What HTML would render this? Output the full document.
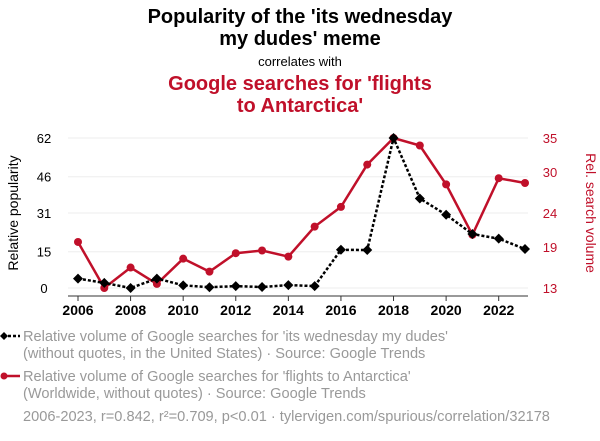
<!DOCTYPE html>
<html><head><meta charset="utf-8"><style>
body{margin:0;background:#fff;width:600px;height:436px;overflow:hidden;font-family:"Liberation Sans",sans-serif}
</style></head><body>
<svg id="c" width="600" height="436" xmlns="http://www.w3.org/2000/svg">
<text x="300" y="23" text-anchor="middle" font-size="20" font-weight="bold" fill="#000">Popularity of the 'its wednesday</text>
<text x="300" y="45" text-anchor="middle" font-size="20" font-weight="bold" fill="#000">my dudes' meme</text>
<text x="300" y="66" text-anchor="middle" font-size="13" fill="#000">correlates with</text>
<text x="300" y="90" text-anchor="middle" font-size="20" font-weight="bold" fill="#c0102a">Google searches for 'flights</text>
<text x="300" y="112" text-anchor="middle" font-size="20" font-weight="bold" fill="#c0102a">to Antarctica'</text>
<text transform="translate(18,213) rotate(-90)" text-anchor="middle" font-size="14" fill="#000">Relative popularity</text>
<text transform="translate(586,213) rotate(90)" text-anchor="middle" font-size="14" fill="#c0102a">Rel. search volume</text>
<g id="grid"></g><g id="axes"></g><g id="marks"></g>
<g font-size="14.6" fill="#999">
<line x1="3" y1="336" x2="20" y2="336" stroke="#000" stroke-width="2.5" stroke-dasharray="3,2"/>
<path d="M4,332 L8,336 L4,340 L0,336Z" fill="#000"/>
<text x="23" y="341">Relative volume of Google searches for 'its wednesday my dudes'</text>
<text x="23" y="358">(without quotes, in the United States) · Source: Google Trends</text>
<line x1="3" y1="376" x2="20" y2="376" stroke="#c0102a" stroke-width="2.5"/>
<circle cx="4" cy="376" r="3.5" fill="#c0102a"/>
<text x="23" y="381">Relative volume of Google searches for 'flights to Antarctica'</text>
<text x="23" y="398">(Worldwide, without quotes) · Source: Google Trends</text>
<text x="23" y="421">2006-2023, r=0.842, r²=0.709, p&lt;0.01 · tylervigen.com/spurious/correlation/32178</text>
</g>
</svg>
<script>
const years=[2006,2007,2008,2009,2010,2011,2012,2013,2014,2015,2016,2017,2018,2019,2020,2021,2022,2023];
const wednesday=[3.9,2.1,0,3.9,1.1,0.3,0.8,0.4,1.2,0.8,15.8,15.7,62,37,30.3,22.3,20.4,16.1];
const antarctica=[19.75,13,16.0,13.6,17.3,15.4,18.1,18.5,17.6,22.0,24.9,31.1,35,33.9,28.2,20.8,29.1,28.4];
const leftTicks=[0,15,31,46,62];
const rightTicks=[13,19,24,30,35];
const xTicks=[2006,2008,2010,2012,2014,2016,2018,2020,2022];
const NS="http://www.w3.org/2000/svg";
const x=v=>78+(v-2006)*(525-78)/17;
const yL=v=>288-v*150/62;
const yR=v=>288-(v-13)*150/22;
function mk(tag,attrs,parent){const e=document.createElementNS(NS,tag);for(const k in attrs)e.setAttribute(k,attrs[k]);document.getElementById(parent).appendChild(e);return e;}
leftTicks.forEach(t=>{
 const g=mk('line',{x1:68,x2:528,y1:yL(t),y2:yL(t),stroke:'#eee','stroke-width':1},'grid');
 
 
 const l=mk('text',{x:44,y:yL(t)+5,'text-anchor':'middle','font-size':13,fill:'#000'},'axes');l.textContent=t;
 
 
});
rightTicks.forEach(t=>{
 const l=mk('text',{x:550,y:yR(t)+5,'text-anchor':'middle','font-size':13,fill:'#c0102a'},'axes');l.textContent=t;
 
 
});
const ax=mk('line',{x1:68,x2:528,y1:296,y2:296,stroke:'#333','stroke-width':1},'axes');


xTicks.forEach(t=>{
 const tk=mk('line',{x1:x(t),x2:x(t),y1:296,y2:301,stroke:'#333'},'axes');
 
 
 const l=mk('text',{x:x(t),y:315,'text-anchor':'middle','font-size':14,'font-weight':'bold',fill:'#000'},'axes');l.textContent=t;
 
 
});
const rp=mk('polyline',{points:years.map((y,i)=>x(y)+','+yR(antarctica[i])).join(' '),fill:'none',stroke:'#c0102a','stroke-width':2.5},'marks');


years.forEach((y,i)=>{
 const c=mk('circle',{cx:x(y),cy:yR(antarctica[i]),r:4,fill:'#c0102a'},'marks');
 
 
});
const bp=mk('polyline',{points:years.map((y,i)=>x(y)+','+yL(wednesday[i])).join(' '),fill:'none',stroke:'#000','stroke-width':2.5,'stroke-dasharray':'3,2'},'marks');


years.forEach((y,i)=>{
 const cx=x(y),cy=yL(wednesday[i]);
 const d=mk('path',{d:`M${cx},${cy-5}L${cx+5},${cy}L${cx},${cy+5}L${cx-5},${cy}Z`,fill:'#000'},'marks');
 
 
});
</script>
</body></html>
